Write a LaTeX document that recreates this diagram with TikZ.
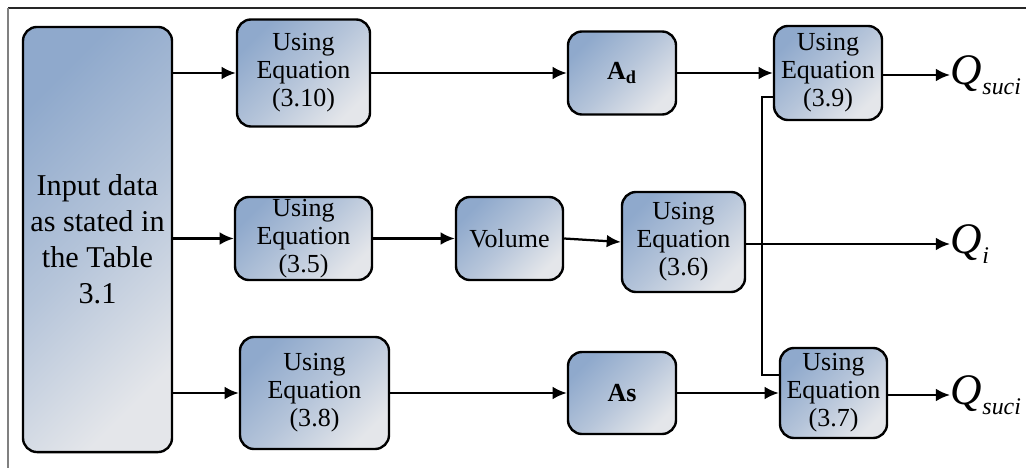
\documentclass[tikz,border=0pt]{standalone}
\usepackage{fontspec}
\setmainfont{Liberation Serif}
\usepackage{tikz}
\usetikzlibrary{positioning}
\usetikzlibrary{arrows.meta}

\definecolor{boxblue}{RGB}{143,169,204}
\definecolor{boxgray}{RGB}{228,230,234}

\tikzset{
  flowbox/.style={draw, line width=1.7pt, rounded corners=10pt,
    top color=boxblue, bottom color=boxgray, middle color=boxblue!55!boxgray,
    shading angle=45, align=center, inner sep=0pt,
    font=\fontsize{18.5}{20}\selectfont},
  flowarrow/.style={-{Latex[length=10pt,width=9pt]}, line width=1.6pt},
  flowline/.style={line width=1.6pt},
  outlabel/.style={anchor=west, inner sep=0.5pt}
}

\newcommand{\qlabel}[1]{{\fontsize{31}{31}\selectfont\itshape Q}\raisebox{-7pt}{\fontsize{17}{17}\selectfont\itshape #1}}

\begin{document}
\begin{tikzpicture}[x=0.025cm,y=-0.025cm]
            \useasboundingbox (0,0) rectangle (1026,467);
            \draw[black!85, line width=0.8pt] (8,8) -- (1030,8);
            \draw[gray, line width=1.2pt] (8,8) -- (8,470);

            % boxes
            \node[flowbox, minimum width=3.725cm, minimum height=10.625cm,
                  font=\fontsize{21.5}{25.5}\selectfont] (inp) at (97.5,239.5) {Input data\\as stated in\\the Table\\3.1};
            \node[flowbox, minimum width=3.325cm, minimum height=2.675cm] (e310) at (303.5,73) {Using\\Equation\\(3.10)};
            \node[flowbox, minimum width=3.425cm, minimum height=2.075cm] (e35) at (303.5,238.5) {Using\\Equation\\(3.5)};
            \node[flowbox, minimum width=3.725cm, minimum height=2.8cm] (e38) at (314.5,393) {Using\\Equation\\(3.8)};
            \node[flowbox, minimum width=2.7cm, minimum height=2.075cm] (ad) at (622,73) {\textbf{A}\textsubscript{\textbf{d}}};
            \node[flowbox, minimum width=2.675cm, minimum height=2.075cm] (vol) at (509.5,238.5) {Volume};
            \node[flowbox, minimum width=3.075cm, minimum height=2.5cm] (e36) at (683.5,242) {Using\\Equation\\(3.6)};
            \node[flowbox, minimum width=2.7cm, minimum height=2.05cm] (as) at (622,393) {\textbf{As}};
            \node[flowbox, minimum width=2.7cm, minimum height=2.35cm] (e39) at (828,73) {Using\\Equation\\(3.9)};
            \node[flowbox, minimum width=2.675cm, minimum height=2.25cm] (e37) at (833.5,393) {Using\\Equation\\(3.7)};

            % outputs
            \node[outlabel] (qs1) at (950,75) {\qlabel{suci}};
            \node[outlabel] (qi) at (950,244) {\qlabel{i}};
            \node[outlabel] (qs2) at (950,395) {\qlabel{suci}};

            \coordinate (jt) at (762,97);
            \coordinate (jb) at (762,375);

            % connectors
            \draw[flowarrow] (inp.east |- e310) -- (e310);
            \draw[flowarrow] (inp.east |- e35) -- (e35);
            \draw[flowarrow] (inp.east |- e38) -- (e38);
            \draw[flowarrow] (e310) -- (ad);
            \draw[flowarrow] (ad) -- (e39);
            \draw[flowarrow] (e35) -- (vol);
            \draw[flowarrow] (vol.east) -- (e36.west);
            \draw[flowarrow] (e38) -- (as);
            \draw[flowarrow] (as) -- (e37);
            \draw[flowarrow] (e39.east |- qs1.west) -- (qs1.west);
            \draw[flowarrow] (e36.east |- qi.west) -- (qi.west);
            \draw[flowarrow] (e37.east |- qs2.west) -- (qs2.west);
            \draw[flowline] (e39.west |- jt) -- (jt) -- (jb) -- (e37.west |- jb);
        \end{tikzpicture}
\end{document}
